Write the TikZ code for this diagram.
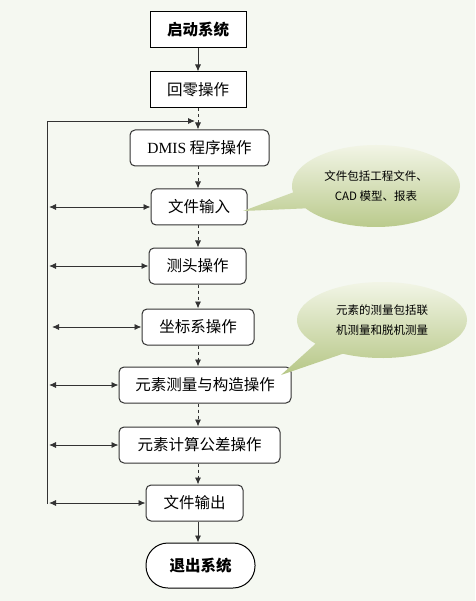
\documentclass[tikz,border=0pt]{standalone}
\usepackage{fontspec}
\setmainfont{Noto Sans CJK SC}
\newfontfamily\dmisfont{Liberation Serif}
\usepackage{tikz}
\usetikzlibrary{positioning,shapes.callouts,arrows.meta}

\definecolor{bgcol}{RGB}{245,248,241}
\definecolor{linecol}{RGB}{51,51,51}
\definecolor{talktop}{RGB}{242,245,230}
\definecolor{talkbot}{RGB}{182,199,134}

\begin{document}
\begin{tikzpicture}[x=1pt,y=-1pt]

\tikzstyle{every node}=[font=\fontsize{15.5}{18}\selectfont]
\tikzstyle{box}=[draw, line width=1, fill=white, minimum height=36, inner sep=0, text centered]
\tikzstyle{rbox}=[box, draw=linecol, rounded corners=5]
\tikzstyle{flow}=[->, >={Latex[length=7,width=6]}, draw=linecol, line width=0.9]
\tikzstyle{talk}=[ellipse callout, top color=talktop, bottom color=talkbot,
  callout pointer arc=24, align=center, font=\fontsize{11.5}{20}\selectfont]

\fill[bgcol] (0,0) rectangle (475,601);
\useasboundingbox (0,0) rectangle (475,601);

% nodes %
\node[box, minimum width=96, font=\fontsize{15.5}{18}\selectfont\bfseries] (start) at (198,30) {启动系统};
\node[box, minimum width=96] (zero) at (198,90) {回零操作};
\node[rbox, minimum width=139] (dmis) at (199.5,148) {{\dmisfont DMIS} 程序操作};
\node[rbox, minimum width=96] (fin) at (199,207) {文件输入};
\node[rbox, minimum width=97] (probe) at (197.5,266) {测头操作};
\node[rbox, minimum width=112] (csys) at (198,327) {坐标系操作};
\node[rbox, minimum width=172] (elem) at (205,385) {元素测量与构造操作};
\node[rbox, minimum width=161] (tol) at (199.5,445) {元素计算公差操作};
\node[rbox, minimum width=97] (fout) at (194.5,503) {文件输出};
\node[box, rounded corners=22, minimum width=109, minimum height=45,
  font=\fontsize{15.5}{18}\selectfont\bfseries] (quit) at (200.5,565.5) {退出系统};

\node[talk, minimum width=168, minimum height=82,
  callout absolute pointer={(243,211)}] (note1) at (376,186) {文件包括工程文件、\\CAD 模型、报表};
\node[talk, minimum width=170, minimum height=76,
  callout absolute pointer={(281,375)}] (note2) at (382,320) {元素的测量包括联\\机测量和脱机测量};

\coordinate (lt) at (47,121);
\coordinate (lb) at (47,504);

% edges %
\draw[flow] (start) -- (zero);
\draw[flow, dashed] (zero.south) -- (dmis.north -| start);
\draw[flow, dashed] (dmis.south -| start) -- (fin.north -| start);
\draw[flow, dashed] (fin.south -| start) -- (probe.north -| start);
\draw[flow, dashed] (probe.south -| start) -- (csys.north -| start);
\draw[flow, dashed] (csys.south -| start) -- (elem.north -| start);
\draw[flow, dashed] (elem.south -| start) -- (tol.north -| start);
\draw[flow, dashed] (tol.south -| start) -- (fout.north -| start);
\draw[flow] (fout.south -| start) -- (quit.north -| start);

\draw[flow] (lb) -- (lt) -- ([xshift=-3]start |- lt);
\draw[flow, <->] ([xshift=2]lb |- fin) -- (fin.west);
\draw[flow, <->] ([xshift=2]lb |- probe) -- (probe.west);
\draw[flow, <->] ([xshift=5]lb |- csys) -- (csys.west);
\draw[flow, <->] ([xshift=2]lb |- elem) -- (elem.west);
\draw[flow, <->] ([xshift=2]lb |- tol) -- (tol.west);
\draw[flow, <->] ([xshift=2]lb |- fout) -- (fout.west);

\end{tikzpicture}
\end{document}
